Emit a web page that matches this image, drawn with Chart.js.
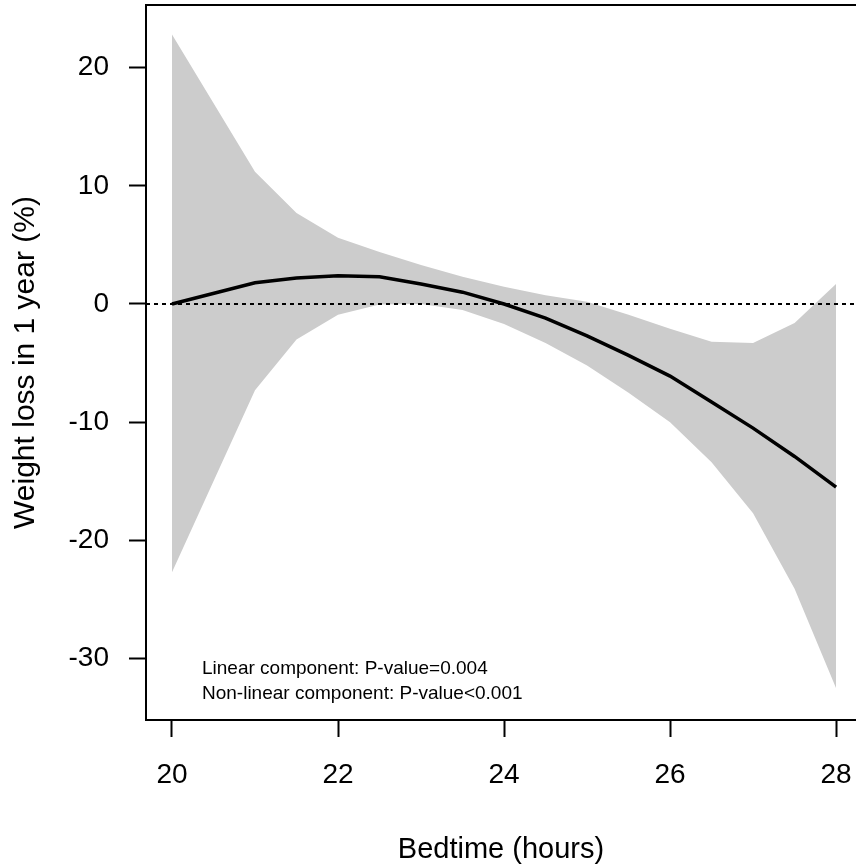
<!DOCTYPE html>
<html><head><meta charset="utf-8">
<script src="https://cdn.jsdelivr.net/npm/chart.js@4/dist/chart.umd.min.js"></script>
<style>html,body{margin:0;padding:0;background:#fff;overflow:hidden}canvas{display:block}</style>
</head><body>
<canvas id="c" width="856" height="868"></canvas>
<script>
// ---- data ----
const bedtime  = [20, 21, 21.5, 22, 22.5, 23, 23.5, 24, 24.5, 25, 25.5, 26, 26.5, 27, 27.5, 28];
const estimate = [0, 1.8, 2.2, 2.4, 2.3, 1.7, 1.0, 0.0, -1.2, -2.7, -4.35, -6.1, -8.3, -10.5, -12.9, -15.5];
const upperCI  = [22.8, 11.2, 7.7, 5.6, 4.4, 3.3, 2.3, 1.45, 0.75, 0.2, -0.9, -2.1, -3.2, -3.3, -1.6, 1.7];
const lowerCI  = [-22.7, -7.3, -3.0, -0.9, -0.05, 0.0, -0.5, -1.7, -3.3, -5.2, -7.5, -10.0, -13.4, -17.7, -24.1, -32.5];
const xTicks = [20, 22, 24, 26, 28];
const yTicks = [-30, -20, -10, 0, 10, 20];
const refLineY = 0;
const xTitle = "Bedtime (hours)";
const yTitle = "Weight loss in 1 year (%)";
const notes = ["Linear component: P-value=0.004", "Non-linear component: P-value<0.001"];

const FONT = "'Liberation Sans', Arial, sans-serif";
const pts = ys => bedtime.map((x, i) => ({x: x, y: ys[i]}));

const decor = {
  id: 'decor',
  beforeDatasetDraw(chart, args) {
    if (args.index !== 0) return;
    const {ctx, chartArea: a, scales: {y}} = chart;
    const yy = y.getPixelForValue(refLineY);
    ctx.save();
    ctx.strokeStyle = '#000';
    ctx.lineWidth = 2;
    ctx.setLineDash([4, 4]);
    ctx.beginPath();
    ctx.moveTo(a.left, yy);
    ctx.lineTo(a.right, yy);
    ctx.stroke();
    ctx.restore();
  },
  afterDraw(chart) {
    const {ctx, chartArea: a} = chart;
    ctx.save();
    ctx.strokeStyle = '#000';
    ctx.lineWidth = 2;
    ctx.beginPath();
    ctx.moveTo(a.left, a.top);
    ctx.lineTo(a.right, a.top);
    ctx.stroke();
    ctx.fillStyle = '#000';
    ctx.font = "19px " + FONT;
    ctx.textBaseline = 'alphabetic';
    ctx.textAlign = 'left';
    ctx.fillText(notes[0], a.left + 56, a.bottom - 46);
    ctx.fillText(notes[1], a.left + 56, a.bottom - 21);
    ctx.restore();
  }
};

new Chart(document.getElementById('c'), {
  type: 'line',
  data: {
    datasets: [
      {data: pts(estimate), borderColor: '#000', borderWidth: 3.5, pointRadius: 0, tension: 0, fill: false},
      {data: pts(upperCI), borderWidth: 0, borderColor: 'rgba(0,0,0,0)', backgroundColor: '#cccccc', pointRadius: 0, tension: 0, fill: '+1'},
      {data: pts(lowerCI), borderWidth: 0, borderColor: 'rgba(0,0,0,0)', pointRadius: 0, tension: 0, fill: false}
    ]
  },
  options: {
    responsive: false,
    animation: false,
    devicePixelRatio: 1,
    layout: {padding: {top: 5, right: 0, left: 0, bottom: 0}},
    plugins: {legend: {display: false}, tooltip: {enabled: false}},
    scales: {
      x: {
        type: 'linear',
        min: 19.687, max: 28.24,
        afterBuildTicks: s => { s.ticks = xTicks.map(v => ({value: v})); },
        afterFit: s => { s.height = 148; s.paddingLeft = 0; s.paddingRight = 0; },
        grid: {drawOnChartArea: false, tickLength: 17, tickWidth: 2, tickColor: '#000'},
        border: {display: true, color: '#000', width: 2},
        ticks: {color: '#000', font: {size: 28, family: FONT}, padding: 21, maxRotation: 0, autoSkip: false},
        title: {display: true, text: xTitle, color: '#000', font: {size: 29, family: FONT}, padding: {bottom: 1, top: 0}}
      },
      y: {
        type: 'linear',
        min: -35.2, max: 25.3,
        afterBuildTicks: s => { s.ticks = yTicks.map(v => ({value: v})); },
        afterFit: s => { s.width = 146; s.paddingTop = 0; s.paddingBottom = 0; },
        grid: {drawOnChartArea: false, tickLength: 17, tickWidth: 2, tickColor: '#000'},
        border: {display: true, color: '#000', width: 2},
        ticks: {color: '#000', font: {size: 28, family: FONT}, padding: 20, autoSkip: false},
        title: {display: true, text: yTitle, color: '#000', font: {size: 30, family: FONT}, padding: {top: 8, bottom: 0}}
      }
    }
  },
  plugins: [decor]
});
</script>
</body></html>
